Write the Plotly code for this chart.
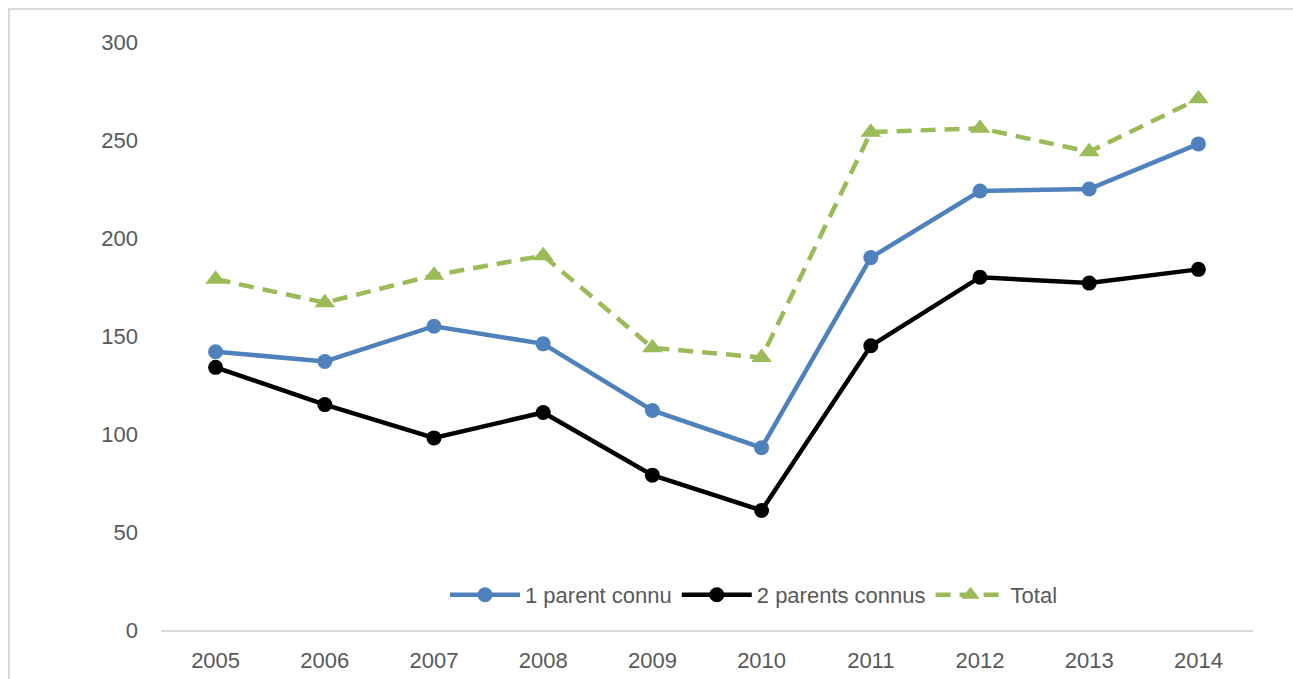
import plotly.graph_objects as go

years = ["2005", "2006", "2007", "2008", "2009", "2010", "2011", "2012", "2013", "2014"]
un_parent = [142, 137, 155, 146, 112, 93, 190, 224, 225, 248]
deux_parents = [134, 115, 98, 111, 79, 61, 145, 180, 177, 184]
total = [179, 167, 181, 191, 144, 139, 254, 256, 244, 271]

FONT = "Liberation Sans"
W, H = 1293, 679
L, R, T, B = 161, 40, 42, 49
pw, ph = W - L - R, H - T - B

fig = go.Figure()
fig.add_trace(go.Scatter(x=years, y=un_parent, name="1 parent connu", mode="lines+markers",
                         line=dict(color="#4F81BD", width=4.5),
                         marker=dict(symbol="circle", size=15, color="#4F81BD")))
fig.add_trace(go.Scatter(x=years, y=deux_parents, name="2 parents connus", mode="lines+markers",
                         line=dict(color="#000000", width=4.5),
                         marker=dict(symbol="circle", size=15, color="#000000")))
fig.add_trace(go.Scatter(x=years, y=total, name="Total", mode="lines+markers",
                         line=dict(color="#9BBB59", width=4.5, dash="15px,9px"),
                         marker=dict(symbol="triangle-up", size=18, color="#9BBB59")))

fig.update_layout(
    width=W, height=H,
    margin=dict(l=L, r=R, t=T, b=B, autoexpand=False),
    paper_bgcolor="white", plot_bgcolor="white",
    font=dict(family=FONT, size=22, color="#595959"),
    showlegend=True,
    legend=dict(orientation="h", x=(445 - L) / pw, xanchor="left",
                y=(H - B - 595) / ph, yanchor="middle",
                bgcolor="rgba(0,0,0,0)", font=dict(size=22, color="#595959"),
                itemwidth=70, tracegroupgap=0),
    xaxis=dict(type="category", range=[-0.5, 9.5], showgrid=False, zeroline=False,
               showline=True, linecolor="#D9D9D9", linewidth=2,
               ticks="", ticklabelstandoff=10, automargin=False,
               tickfont=dict(size=22, color="#595959")),
    yaxis=dict(range=[0, 300], tickvals=[0, 50, 100, 150, 200, 250, 300],
               showgrid=False, zeroline=False, showline=False,
               ticks="", ticklabelstandoff=22, automargin=False,
               tickfont=dict(size=22, color="#595959")),
    shapes=[dict(type="rect", xref="paper", yref="paper",
                 x0=(9 - L) / pw, x1=(W + 20 - L) / pw,
                 y0=(H - B - (H + 20)) / ph, y1=(H - B - 9) / ph,
                 line=dict(color="#D9D9D9", width=2), fillcolor="rgba(0,0,0,0)",
                 layer="below")],
)

fig.write_html("out.html")
